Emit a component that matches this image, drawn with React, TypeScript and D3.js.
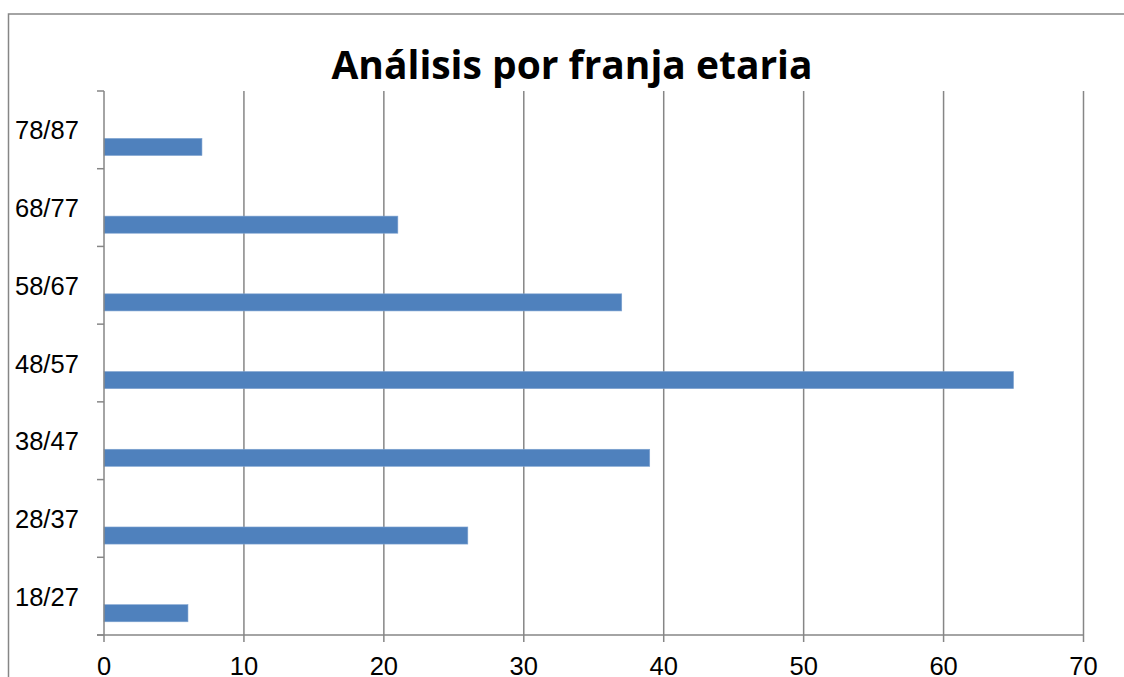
import React from "react"
import * as d3 from "d3"

const categories = ["18/27", "28/37", "38/47", "48/57", "58/67", "68/77", "78/87"]
const values = [6, 26, 39, 65, 37, 21, 7]
const xTicks = [0, 10, 20, 30, 40, 50, 60, 70]
const title = "Análisis por franja etaria"

const W = 1124
const H = 677
const GRID = "#868686"
const BAR = "#4F81BD"

const App: React.FC = () => {
  const plot = { left: 104, right: 1083.5, top: 91, bottom: 635 }

  const x = d3.scaleLinear().domain([0, 70]).range([plot.left, plot.right])

  // top category first on screen, like Excel's reversed bar order
  const y = d3
    .scaleBand<string>()
    .domain([...categories].reverse())
    .range([plot.top, plot.bottom])

  const bw = y.bandwidth()
  const barOffset = 0.61 * bw
  const barHeight = 0.22 * bw

  const bandEdges = d3.range(categories.length + 1).map((i) => plot.top + i * bw)

  return (
    <svg width={W} height={H} style={{ position: "absolute", left: 0, top: 0, background: "#fff" }}>
      {/* outer chart frame */}
      <rect x={8.5} y={14} width={1300} height={1000} fill="none" stroke={GRID} strokeWidth={1.5} />

      <text
        x={572}
        y={79}
        textAnchor="middle"
        fontFamily="'Open Sans', 'Noto Sans', sans-serif"
        fontWeight="bold"
        fontSize={39}
        textLength={481}
        lengthAdjust="spacingAndGlyphs"
        fill="#000"
      >
        {title}
      </text>

      {/* vertical gridlines */}
      {xTicks.slice(1).map((t) => (
        <line key={"g" + t} x1={x(t)} x2={x(t)} y1={plot.top} y2={plot.bottom} stroke={GRID} strokeWidth={1.5} />
      ))}

      {/* bars */}
      {categories.map((c, i) => (
        <rect
          key={c}
          x={x(0)}
          y={(y(c) || 0) + barOffset}
          width={x(values[i]) - x(0)}
          height={barHeight}
          fill={BAR}
          stroke="#7fa3d0"
          strokeWidth={0.6}
        />
      ))}

      {/* category axis */}
      <line x1={plot.left} x2={plot.left} y1={plot.top} y2={plot.bottom} stroke={GRID} strokeWidth={1.5} />
      {bandEdges.map((e, i) => (
        <line key={"t" + i} x1={plot.left - 7} x2={plot.left} y1={e} y2={e} stroke={GRID} strokeWidth={1.5} />
      ))}
      {categories.map((c) => (
        <text
          key={"l" + c}
          x={15}
          y={(y(c) || 0) + bw / 2 + 9.5}
          fontFamily="'Liberation Sans', Arial, sans-serif"
          fontSize={25.5}
          fill="#000"
        >
          {c}
        </text>
      ))}

      {/* value axis */}
      <line x1={plot.left - 7} x2={plot.right} y1={plot.bottom} y2={plot.bottom} stroke={GRID} strokeWidth={1.5} />
      {xTicks.map((t) => (
        <g key={"x" + t}>
          <line x1={x(t)} x2={x(t)} y1={plot.bottom} y2={plot.bottom + 7} stroke={GRID} strokeWidth={1.5} />
          <text
            x={x(t)}
            y={675}
            textAnchor="middle"
            fontFamily="'Liberation Sans', Arial, sans-serif"
            fontSize={25.5}
            fill="#000"
          >
            {t}
          </text>
        </g>
      ))}
    </svg>
  )
}

export default App
